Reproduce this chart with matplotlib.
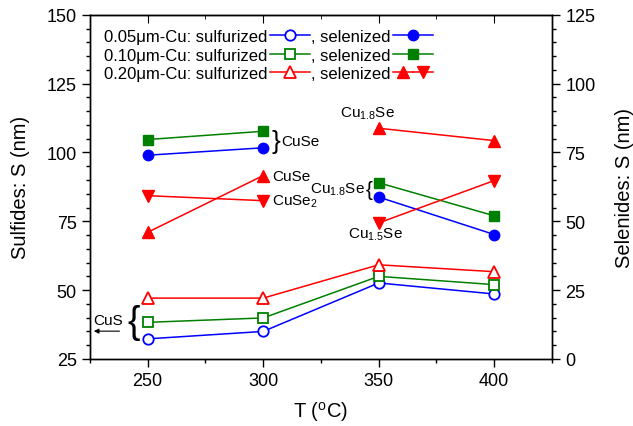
import numpy as np
import matplotlib
matplotlib.use("Agg")
import matplotlib.pyplot as plt
from matplotlib.lines import Line2D
from matplotlib.legend_handler import HandlerTuple
from matplotlib.ticker import MultipleLocator

plt.rcParams["font.family"] = ["Liberation Sans", "DejaVu Sans"]
plt.rcParams["mathtext.fontset"] = "custom"
plt.rcParams["mathtext.rm"] = "Liberation Sans"
plt.rcParams["mathtext.default"] = "regular"

# temperature (C)
T = np.array([250, 300, 350, 400])

# sulfurized films, left axis (nm)
sulf_005 = [32.3, 35.0, 52.6, 48.6]
sulf_010 = [38.3, 39.9, 55.0, 52.0]
sulf_020 = [47.1, 47.1, 59.2, 56.7]

# selenized films, right axis (nm)
sel_005 = [74.0, 76.7, 58.8, 45.2]
sel_010 = [79.7, 82.7, 64.0, 52.0]
sel_020_up = [46.0, 66.6, 83.8, 79.3]
sel_020_dn = [59.3, 57.5, 49.4, 64.8]

labels_sulf = ["0.05\u03bcm-Cu: sulfurized", "0.10\u03bcm-Cu: sulfurized", "0.20\u03bcm-Cu: sulfurized"]

blue, green, red = "#0000ff", "#008000", "#ff0000"

fig = plt.figure(figsize=(6.33, 4.27), dpi=100)
ax = fig.add_axes([0.142, 0.157, 0.730, 0.806])
ax2 = ax.twinx()

lw = 1.1
ms = 7.5
s1, = ax.plot(T, sulf_005, "-o", color=blue, mfc="white", mec=blue, ms=ms, lw=lw, mew=1.3)
s2, = ax.plot(T, sulf_010, "-s", color=green, mfc="white", mec=green, ms=ms - 0.5, lw=lw, mew=1.3)
s3, = ax.plot(T, sulf_020, "-^", color=red, mfc="white", mec=red, ms=ms + 0.5, lw=lw, mew=1.3)

# selenized: two separate segments (250-300, 350-400)
for seg in (slice(0, 2), slice(2, 4)):
    ax2.plot(T[seg], sel_005[seg], "-o", color=blue, ms=ms, lw=lw)
    ax2.plot(T[seg], sel_010[seg], "-s", color=green, ms=ms - 0.5, lw=lw)
    ax2.plot(T[seg], sel_020_up[seg], "-^", color=red, ms=ms + 0.5, lw=lw)
    ax2.plot(T[seg], sel_020_dn[seg], "-v", color=red, ms=ms + 0.5, lw=lw)

ax.set_xlim(225, 425)
ax.set_ylim(25, 150)
ax2.set_ylim(0, 125)
ax.xaxis.set_major_locator(MultipleLocator(50))
ax.xaxis.set_minor_locator(MultipleLocator(25))
ax.yaxis.set_major_locator(MultipleLocator(25))
ax.yaxis.set_minor_locator(MultipleLocator(5))
ax2.yaxis.set_major_locator(MultipleLocator(25))
ax2.yaxis.set_minor_locator(MultipleLocator(5))

for a in (ax, ax2):
    a.tick_params(which="major", direction="out", length=6, width=1, labelsize=13)
    a.tick_params(which="minor", direction="out", length=3, width=1)
    for sp in a.spines.values():
        sp.set_linewidth(1)

top = ax.secondary_xaxis("top")
top.xaxis.set_major_locator(MultipleLocator(50))
top.xaxis.set_minor_locator(MultipleLocator(25))
top.tick_params(which="major", direction="in", length=6, labeltop=False)
top.tick_params(which="minor", direction="in", length=3)

ax.set_xlabel("T ($^{o}$C)", fontsize=14.5, labelpad=7)
ax.set_ylabel("Sulfides: S (nm)", fontsize=14.5, labelpad=12)
ax2.set_ylabel("Selenides: S (nm)", fontsize=14.5, labelpad=14)

# legend: text first, then symbol
h_se1 = Line2D([], [], color=blue, marker="o", ms=ms, lw=lw)
h_se2 = Line2D([], [], color=green, marker="s", ms=ms - 0.5, lw=lw)
h_se3a = Line2D([], [], color=red, marker="^", ms=ms + 0.5, lw=lw)
h_se3b = Line2D([], [], color=red, marker="v", ms=ms + 0.5, lw=lw)
handles = [s1, s2, s3, h_se1, h_se2, (h_se3a, h_se3b)]
labels = labels_sulf + [", selenized"] * 3
ax.legend(handles, labels, ncol=2, loc="upper left", markerfirst=False, frameon=False,
          fontsize=12, handlelength=2.4, handletextpad=0.15, columnspacing=0.05,
          labelspacing=0.22, numpoints=1, borderaxespad=0.45,
          handler_map={tuple: HandlerTuple(ndivide=None, pad=0)})

# annotations (left-axis data coordinates)
fs = 11
ax.text(305.7, 104.2, "}", fontsize=19, ha="center", va="center")
ax.text(308, 104.2, "CuSe", fontsize=fs, ha="left", va="center")
ax.text(304, 91.6, "CuSe", fontsize=fs, ha="left", va="center")
ax.text(304, 82.3, "CuSe$_2$", fontsize=fs, ha="left", va="center")
ax.text(345, 114.5, "Cu$_{1.8}$Se", fontsize=fs, ha="center", va="center")
ax.text(344, 86.8, "Cu$_{1.8}$Se", fontsize=fs, ha="right", va="center")
ax.text(345.8, 86.6, "{", fontsize=15, ha="center", va="center")
ax.text(348.4, 70.5, "Cu$_{1.5}$Se", fontsize=fs, ha="center", va="center")
ax.text(233, 39.2, "CuS", fontsize=fs, ha="center", va="center")
ax.text(243.8, 38.6, "{", fontsize=27, ha="center", va="center")
ax.annotate("", xy=(225.5, 35.1), xytext=(239, 35.1),
            arrowprops=dict(arrowstyle="-|>", color="black", lw=0.8, mutation_scale=7))

fig.savefig("out.png", dpi=100)
